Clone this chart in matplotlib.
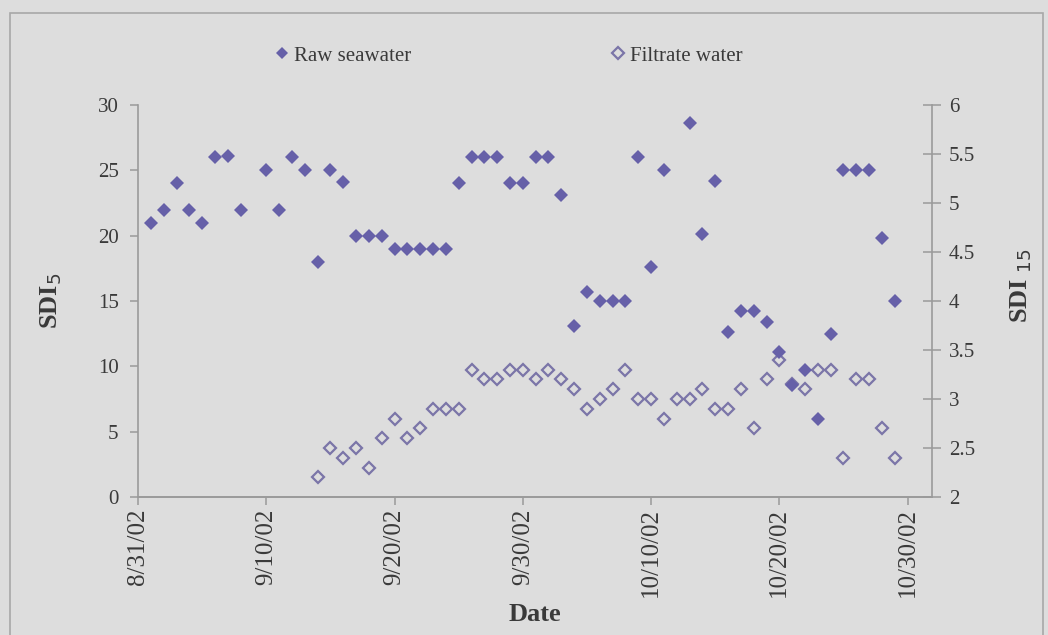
import matplotlib
matplotlib.use("Agg")
import matplotlib.pyplot as plt
import matplotlib.patches as patches
from matplotlib.ticker import FuncFormatter
import matplotlib.dates as mdates
import pandas as pd

plt.rcParams['font.family'] = ['Liberation Serif', 'DejaVu Serif']

# SDI5 of the raw seawater (left axis)
raw_dates = ['9/1', '9/2', '9/3', '9/4', '9/5', '9/6', '9/7', '9/8', '9/10', '9/11',
             '9/12', '9/13', '9/14', '9/15', '9/16', '9/17', '9/18', '9/19', '9/20', '9/21',
             '9/22', '9/23', '9/24', '9/25', '9/26', '9/27', '9/28', '9/29', '9/30', '10/1',
             '10/2', '10/3', '10/4', '10/5', '10/6', '10/7', '10/8', '10/9', '10/10', '10/11',
             '10/13', '10/14', '10/15', '10/16', '10/17', '10/18', '10/19', '10/20', '10/21', '10/22',
             '10/23', '10/24', '10/25', '10/26', '10/27', '10/28', '10/29']
raw_sdi5 = [21, 22, 24, 22, 21, 26, 26.1, 22, 25, 22,
            26, 25, 18, 25, 24.1, 20, 20, 20, 19, 19,
            19, 19, 19, 24, 26, 26, 26, 24, 24, 26,
            26, 23.1, 13.1, 15.7, 15, 15, 15, 26, 17.6, 25,
            28.6, 20.1, 24.2, 12.6, 14.2, 14.2, 13.4, 11.1, 8.6, 9.7,
            6.0, 12.5, 25, 25, 25, 19.8, 15]

# SDI15 of the filtrate (right axis)
filt_dates = ['9/14', '9/15', '9/16', '9/17', '9/18', '9/19', '9/20', '9/21', '9/22', '9/23',
              '9/24', '9/25', '9/26', '9/27', '9/28', '9/29', '9/30', '10/1', '10/2', '10/3',
              '10/4', '10/5', '10/6', '10/7', '10/8', '10/9', '10/10', '10/11', '10/12', '10/13',
              '10/14', '10/15', '10/16', '10/17', '10/18', '10/19', '10/20', '10/21', '10/22', '10/23',
              '10/24', '10/25', '10/26', '10/27', '10/28', '10/29']
filt_sdi15 = [2.2, 2.5, 2.4, 2.5, 2.3, 2.6, 2.8, 2.6, 2.7, 2.9,
              2.9, 2.9, 3.3, 3.2, 3.2, 3.3, 3.3, 3.2, 3.3, 3.2,
              3.1, 2.9, 3.0, 3.1, 3.3, 3.0, 3.0, 2.8, 3.0, 3.0,
              3.1, 2.9, 2.9, 3.1, 2.7, 3.2, 3.4, 3.15, 3.1, 3.3,
              3.3, 2.4, 3.2, 3.2, 2.7, 2.4]

tick_dates = ['8/31', '9/10', '9/20', '9/30', '10/10', '10/20', '10/30']


def to_dt(days):
    return pd.to_datetime([d + '/2002' for d in days], format='%m/%d/%Y')


bg = '#dddddd'
axis_col = '#9a9a9a'
text_col = '#3a3a3a'
raw_col = '#6660a8'
filt_col = '#7b75a8'

fig = plt.figure(figsize=(10.48, 6.35), dpi=100, facecolor=bg)
ax = fig.add_axes([0.1317, 0.2173, 0.7573, 0.6173])
ax2 = ax.twinx()

# outer chart frame
fig.patches.append(patches.Rectangle((10 / 1048, -0.05), 1033 / 1048, 1.05 - 13 / 635,
                                     transform=fig.transFigure, fill=False,
                                     edgecolor='#a8a8a8', linewidth=1.2))

ax2.plot(to_dt(filt_dates), filt_sdi15, linestyle='none', marker='D', markersize=6.3,
         markerfacecolor='none', markeredgecolor=filt_col, markeredgewidth=1.6,
         label='Filtrate water')
ax.plot(to_dt(raw_dates), raw_sdi5, linestyle='none', marker='D', markersize=7,
        color=raw_col, markeredgewidth=0, label='Raw seawater')

# raw series drawn over the secondary axis
ax.set_zorder(ax2.get_zorder() + 1)
ax.patch.set_visible(False)
ax2.patch.set_facecolor(bg)

ax.set_xlim(pd.Timestamp('2002-08-31'), pd.Timestamp('2002-10-31 21:00'))
ax.set_ylim(0, 30)
ax2.set_ylim(2, 6)
ax.set_yticks([0, 5, 10, 15, 20, 25, 30])
ax2.set_yticks([2, 2.5, 3, 3.5, 4, 4.5, 5, 5.5, 6])
ax2.yaxis.set_major_formatter(FuncFormatter(lambda v, p: f'{v:g}'))

ax.set_xticks(to_dt(tick_dates))
ax.xaxis.set_major_formatter(FuncFormatter(
    lambda v, p: (lambda d: f'{d.month}/{d.day}/{d:%y}')(mdates.num2date(v))))

for a in (ax, ax2):
    for s in a.spines.values():
        s.set_color(axis_col)
        s.set_linewidth(1.2)
    a.spines['top'].set_visible(False)
ax.spines['right'].set_visible(False)
ax2.spines['left'].set_visible(False)

ax.tick_params(axis='y', direction='out', length=6, width=1.1, color=axis_col,
               labelsize=15, labelcolor=text_col, pad=8)
ax.tick_params(axis='x', direction='out', length=6, width=1.1, color=axis_col,
               labelsize=18, labelcolor=text_col, pad=2, labelrotation=90)
ax2.tick_params(axis='y', direction='inout', length=13, width=1.1, color=axis_col,
                labelsize=15, labelcolor=text_col, pad=6)

ax.set_ylabel('SDI$_5$', fontsize=19, fontweight='bold', color=text_col, labelpad=24)
ax2.set_ylabel('SDI $_{15}$', fontsize=19, fontweight='bold', color=text_col)
ax2.yaxis.set_label_coords(1.097, 0.54)
ax.set_xlabel('Date', fontsize=19, fontweight='bold', color=text_col, labelpad=4)

h1, l1 = ax.get_legend_handles_labels()
h2, l2 = ax2.get_legend_handles_labels()
fig.legend(h1 + h2, l1 + l2, loc='center', bbox_to_anchor=(0.486, 0.912), ncol=2,
           frameon=False, fontsize=15, labelcolor=text_col, columnspacing=9.6,
           handlelength=0.6, handletextpad=0.3, markerscale=0.9)

fig.savefig('out.png', dpi=100, facecolor=bg)
